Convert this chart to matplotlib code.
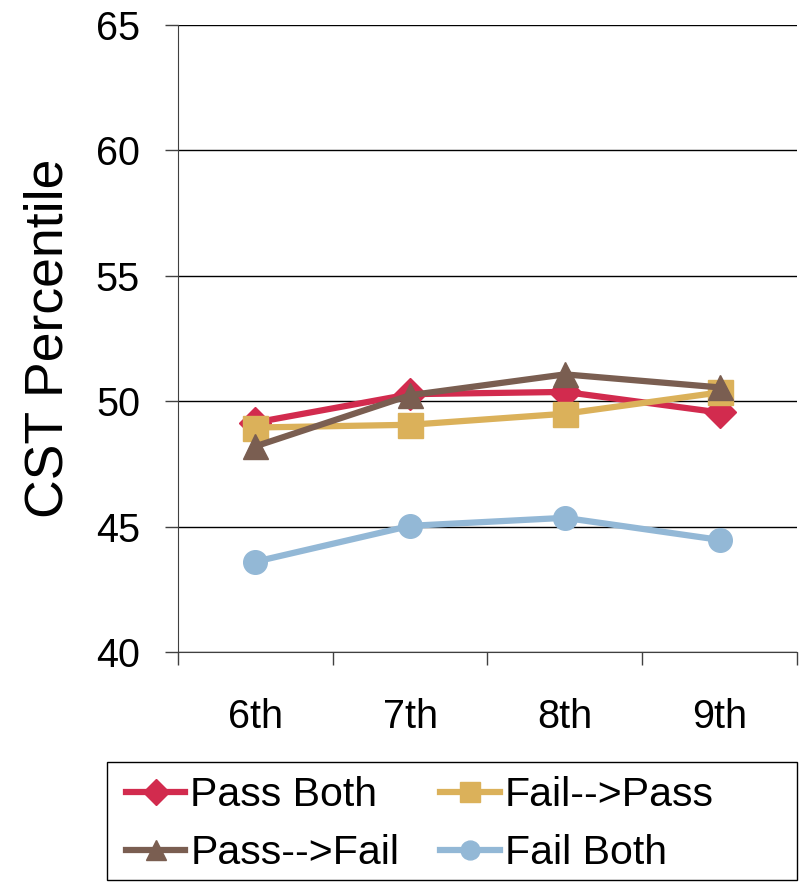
import matplotlib.pyplot as plt
from matplotlib.lines import Line2D
from matplotlib.patches import Rectangle

plt.rcParams['font.family'] = ['Liberation Sans', 'DejaVu Sans']

grades = ['6th', '7th', '8th', '9th']
pass_both = [49.15, 50.28, 50.37, 49.55]
fail_pass = [48.95, 49.06, 49.5, 50.35]
pass_fail = [48.2, 50.24, 51.07, 50.55]
fail_both = [43.6, 45.03, 45.35, 44.47]

series = [
    ('Pass Both', pass_both, '#D22B4E', 'D', 16),
    ('Fail-->Pass', fail_pass, '#DBB15A', 's', 18),
    ('Pass-->Fail', pass_fail, '#7A5E51', '^', 18),
    ('Fail Both', fail_both, '#93B8D6', 'o', 17),
]

W, H = 804, 883
fig = plt.figure(figsize=(W / 100, H / 100), dpi=100)
ax = fig.add_axes([178 / W, 1 - 652 / H, (797 - 178) / W, (652 - 25) / H])

x = range(len(grades))
for name, vals, col, mk, ms in series:
    ax.plot(x, vals, color=col, lw=4.5, marker=mk, ms=ms, label=name,
            solid_capstyle='round')

ax.set_ylim(40, 65)
ax.set_yticks(range(40, 66, 5))
ax.set_xlim(-0.5, 3.5)
ax.set_xticks(list(x))
ax.set_xticklabels(grades)
ax.set_xticks([-0.5, 0.5, 1.5, 2.5, 3.5], minor=True)
ax.tick_params(axis='x', which='major', length=0, pad=33, labelsize=28.5)
ax.tick_params(axis='x', which='minor', length=9.4, width=1, color='#404040')
ax.tick_params(axis='y', length=9.4, width=1, labelsize=28.5, pad=18,
               color='#404040')
ax.yaxis.grid(True, color='black', lw=1)
ax.set_axisbelow(True)
for s in ['top', 'right']:
    ax.spines[s].set_visible(False)
for s in ['left', 'bottom']:
    ax.spines[s].set_color('#404040')
ax.set_ylabel('CST Percentile', fontsize=38.5, labelpad=16)

# legend: row-wise order like the original (matplotlib fills by column)
order = [0, 2, 1, 3]
handles = [Line2D([], [], color=series[i][2], lw=4.5, marker=series[i][3],
                  ms=series[i][4] * 0.8) for i in order]
labels = [series[i][0] for i in order]
fig.legend(handles, labels, ncol=2, loc='upper left',
           bbox_to_anchor=(126 / W, 1 - 776 / H), fontsize=29.5,
           frameon=False, handlelength=1.45, handletextpad=0.12,
           borderaxespad=0, borderpad=0, labelspacing=0.5,
           columnspacing=1.0)
fig.patches.append(Rectangle((107 / W, 1 - 880 / H), (797 - 107) / W,
                             (880 - 762) / H, transform=fig.transFigure,
                             fill=False, edgecolor='black', lw=1))

fig.savefig('out.png', dpi=100)
